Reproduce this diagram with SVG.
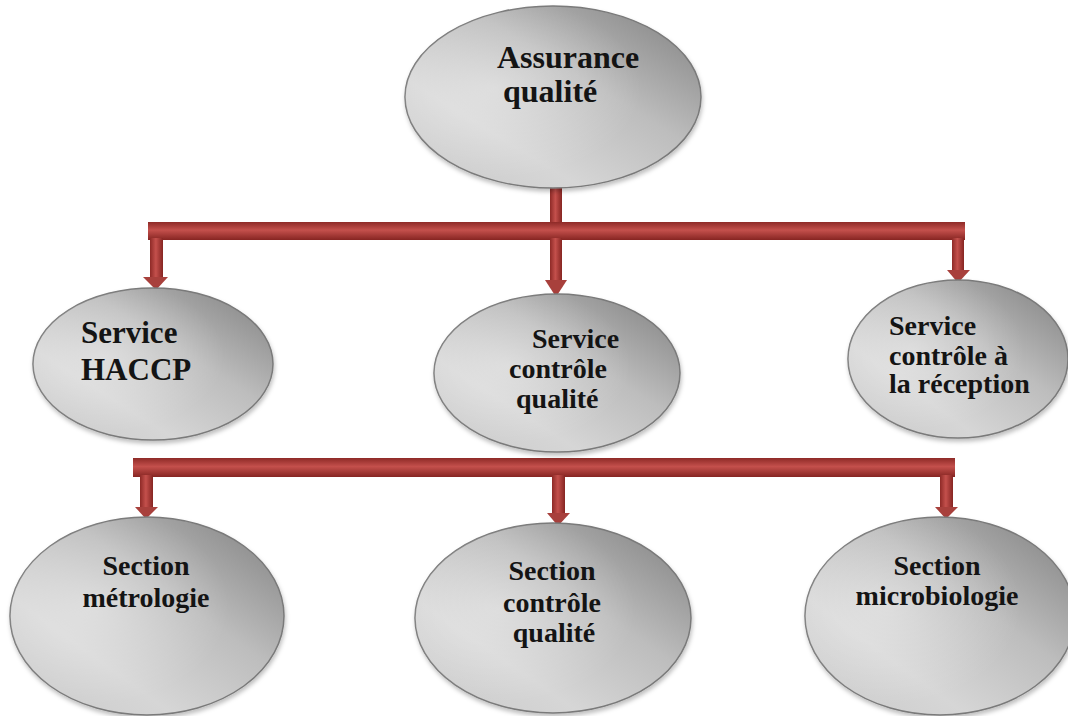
<svg xmlns="http://www.w3.org/2000/svg" width="1068" height="716" viewBox="0 0 1068 716">
<defs>
<linearGradient id="gray" x1="0" y1="1" x2="1" y2="0">
<stop offset="0" stop-color="#c9c9c9"/>
<stop offset="0.3" stop-color="#d6d6d6"/>
<stop offset="0.6" stop-color="#bdbdbd"/>
<stop offset="0.85" stop-color="#959595"/>
<stop offset="1" stop-color="#a9a9a9"/>
</linearGradient>
<radialGradient id="hl" cx="0.3" cy="0.45" r="0.5">
<stop offset="0" stop-color="#ffffff" stop-opacity="0.35"/>
<stop offset="1" stop-color="#ffffff" stop-opacity="0"/>
</radialGradient>
<linearGradient id="barH" x1="0" y1="0" x2="0" y2="1">
<stop offset="0" stop-color="#8e2a27"/>
<stop offset="0.45" stop-color="#c4504c"/>
<stop offset="1" stop-color="#862522"/>
</linearGradient>
<linearGradient id="barV" x1="0" y1="0" x2="1" y2="0">
<stop offset="0" stop-color="#8e2a27"/>
<stop offset="0.45" stop-color="#c4504c"/>
<stop offset="1" stop-color="#862522"/>
</linearGradient>
<filter id="sh" x="-10%" y="-10%" width="125%" height="125%">
<feDropShadow dx="1" dy="3" stdDeviation="2" flood-color="#000" flood-opacity="0.25"/>
</filter>
</defs>
<style>
.node ellipse.b{fill:url(#gray);stroke:#7a7a7a;stroke-width:1.5;filter:url(#sh)}
.node ellipse.h{fill:url(#hl);stroke:none}
.t{font-family:"Liberation Serif","Times New Roman",serif;font-weight:bold;fill:#141414;font-size:28px}
.m{text-anchor:middle}
.head{fill:#a8403c}
</style>
<rect width="1068" height="716" fill="#ffffff"/>

<g id="connectors">
<rect x="550" y="186" width="12" height="38" fill="url(#barV)"/>
<rect x="148" y="222" width="817" height="18" fill="url(#barH)"/>
<rect x="150" y="238" width="13" height="40" fill="url(#barV)"/>
<polygon class="head" points="143,277 168,277 156,290"/>
<rect x="550" y="238" width="12" height="43" fill="url(#barV)"/>
<polygon class="head" points="545,280 567,280 556,297"/>
<rect x="952" y="238" width="12" height="33" fill="url(#barV)"/>
<polygon class="head" points="947,270 970,270 958,283"/>
<rect x="133" y="458" width="822" height="19" fill="url(#barH)"/>
<rect x="140" y="475" width="13" height="33" fill="url(#barV)"/>
<polygon class="head" points="135,507 158,507 146,519"/>
<rect x="552" y="475" width="13" height="39" fill="url(#barV)"/>
<polygon class="head" points="547,513 570,513 558,526"/>
<rect x="940" y="475" width="13" height="33" fill="url(#barV)"/>
<polygon class="head" points="935,507 958,507 946,519"/>
</g>

<g id="assurance" class="node">
<ellipse class="b" cx="553" cy="97" rx="148" ry="91"/>
<ellipse class="h" cx="553" cy="97" rx="148" ry="91"/>
<text class="t" style="font-size:32px" x="497" y="68">Assurance</text>
<text class="t" style="font-size:32px" x="503" y="102">qualité</text>
</g>

<g id="service-haccp" class="node">
<ellipse class="b" cx="153" cy="364" rx="120" ry="76"/>
<ellipse class="h" cx="153" cy="364" rx="120" ry="76"/>
<text class="t" style="font-size:31px" x="81" y="343">Service</text>
<text class="t" style="font-size:31px" x="81" y="380">HACCP</text>
</g>

<g id="service-controle-qualite" class="node">
<ellipse class="b" cx="557" cy="373" rx="123" ry="79"/>
<ellipse class="h" cx="557" cy="373" rx="123" ry="79"/>
<text class="t" x="532" y="348">Service</text>
<text class="t" x="509" y="378">contrôle</text>
<text class="t" x="516" y="408">qualité</text>
</g>

<g id="service-reception" class="node">
<ellipse class="b" cx="958" cy="359" rx="110" ry="79"/>
<ellipse class="h" cx="958" cy="359" rx="110" ry="79"/>
<text class="t" x="889" y="335">Service</text>
<text class="t" x="889" y="365">contrôle à</text>
<text class="t" x="889" y="393">la réception</text>
</g>

<g id="section-metrologie" class="node">
<ellipse class="b" cx="147" cy="616" rx="137" ry="99"/>
<ellipse class="h" cx="147" cy="616" rx="137" ry="99"/>
<text class="t m" x="146" y="575">Section</text>
<text class="t m" x="146" y="607">métrologie</text>
</g>

<g id="section-controle-qualite" class="node">
<ellipse class="b" cx="553" cy="618" rx="138" ry="95"/>
<ellipse class="h" cx="553" cy="618" rx="138" ry="95"/>
<text class="t m" x="552" y="580">Section</text>
<text class="t m" x="552" y="612">contrôle</text>
<text class="t m" x="554" y="642">qualité</text>
</g>

<g id="section-microbiologie" class="node">
<ellipse class="b" cx="940" cy="616" rx="135" ry="99"/>
<ellipse class="h" cx="940" cy="616" rx="135" ry="99"/>
<text class="t m" x="937" y="575">Section</text>
<text class="t m" x="937" y="605">microbiologie</text>
</g>
</svg>
